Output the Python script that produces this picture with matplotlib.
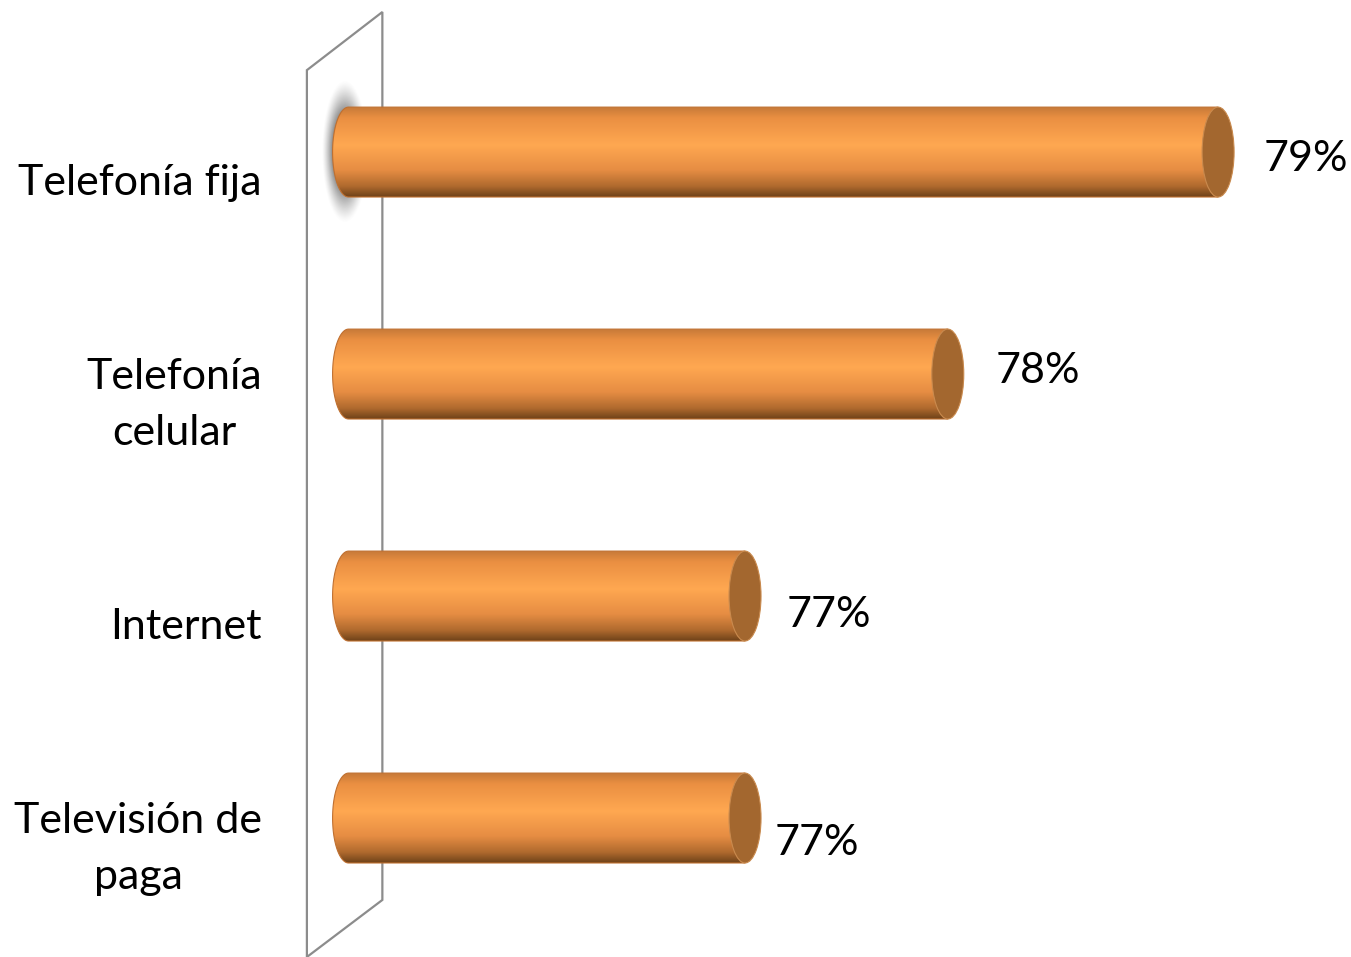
import numpy as np
import matplotlib.pyplot as plt
from matplotlib.path import Path
from matplotlib.patches import PathPatch, Ellipse, Polygon
from matplotlib.colors import LinearSegmentedColormap

plt.rcParams['font.family'] = ['Lato', 'DejaVu Sans']

# datos
categorias = ["Telefonía fija", "Telefonía\ncelular", "Internet", "Televisión de\npaga"]
valores = [79.2, 78.0, 77.1, 77.1]
etiquetas = ["79%", "78%", "77%", "77%"]

x_base = 75.34
x_min, x_max = 75.08, 79.79
alto = 0.405      # alto de la barra (en unidades de categoría)
rx = 0.071        # semieje de la tapa elíptica (en unidades de x)

fig = plt.figure(figsize=(13.51, 9.57), dpi=100)
ax = fig.add_axes([290 / 1351, 0, 1 - 290 / 1351, 1])
ax.set_xlim(x_min, x_max)
ax.set_ylim(3.626, -0.685)
ax.axis("off")

# pared (pseudo 3D)
pared = Polygon([(75.155, -0.369), (75.49, -0.631), (75.49, 3.369), (75.155, 3.626)],
                closed=True, facecolor="white", edgecolor="#8c8c8c", lw=1.6, zorder=1)
ax.add_patch(pared)

# sombra en la primera barra
yy, xx = np.mgrid[-1:1:200j, -1:1:200j]
r = np.sqrt(xx**2 + yy**2)
sombra = np.zeros((200, 200, 4))
sombra[..., :3] = 0.4
sombra[..., 3] = np.clip((1 - r) / 0.45, 0, 1) ** 1.3 * 0.75
ax.imshow(sombra, extent=(x_base - 0.12, x_base + 0.08, 0.32, -0.32),
          aspect="auto", zorder=2, interpolation="bilinear")

cmap = LinearSegmentedColormap.from_list(
    "cil", [(0.0, "#c77a38"), (0.12, "#ea8f42"), (0.42, "#ffa851"),
            (0.7, "#e68d43"), (0.88, "#b06a2e"), (1.0, "#6e4219")])
grad = np.linspace(0, 1, 256).reshape(-1, 1)

for i, (v, txt) in enumerate(zip(valores, etiquetas)):
    top, bot = i - alto / 2, i + alto / 2
    t = np.linspace(np.pi / 2, 3 * np.pi / 2, 60)
    arco = np.column_stack([x_base + rx * np.cos(t), i - (alto / 2) * np.sin(t)])
    verts = [(x_base, top), (v, top), (v, bot), (x_base, bot)]
    verts = np.vstack([verts, arco[::-1], [(x_base, top)]])
    codes = [Path.MOVETO] + [Path.LINETO] * (len(verts) - 2) + [Path.CLOSEPOLY]
    forma = PathPatch(Path(verts, codes), facecolor="none", edgecolor="#c07030",
                      lw=0.8, zorder=4)
    im = ax.imshow(grad, cmap=cmap, extent=(x_base - rx, v, bot, top),
                   aspect="auto", zorder=3, interpolation="bilinear")
    ax.add_patch(forma)
    im.set_clip_path(forma)
    tapa = Ellipse((v, i), width=2 * rx, height=alto, facecolor="#a3672f",
                   edgecolor="#c98a4e", lw=0.8, zorder=5)
    ax.add_patch(tapa)

label_offsets = [(46, -7), (48, 3), (42, -19), (30, -25)]
for i, (v, txt) in enumerate(zip(valores, etiquetas)):
    dx, dy = label_offsets[i]
    ax.annotate(txt, xy=(v, i), xytext=(dx, dy), textcoords="offset pixels",
                ha="left", va="center", fontsize=31, color="black")

for i, cat in enumerate(categorias):
    ax.text(262 / 1351, 1 - (152 + 222 * i + 31) / 957, cat, transform=fig.transFigure,
            ha="right", va="center", fontsize=31, color="black", linespacing=1.55,
            multialignment="center")

fig.savefig("out.png", dpi=100)
